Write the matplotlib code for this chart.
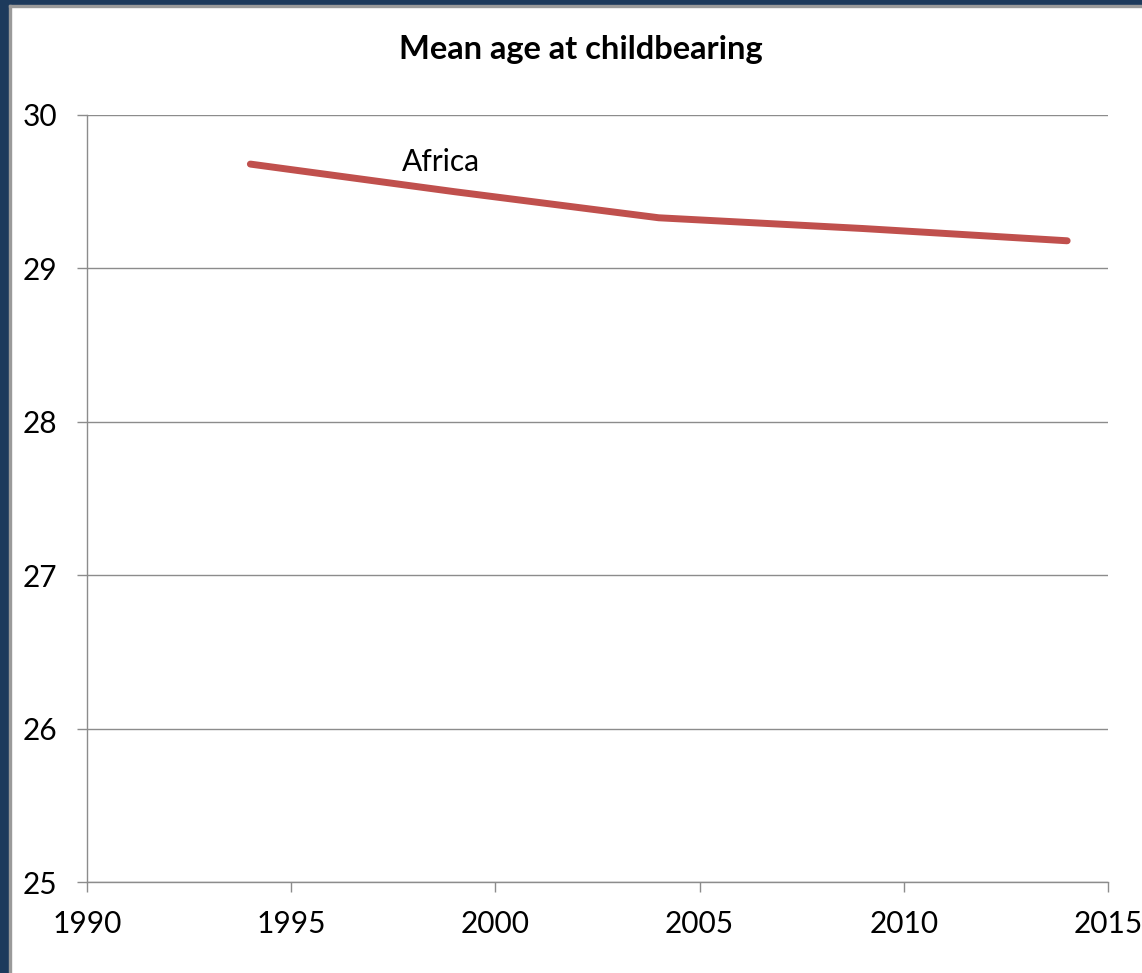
import matplotlib
matplotlib.use("Agg")
import matplotlib.pyplot as plt
from matplotlib.patches import Rectangle

# Mean age at childbearing, Africa
years = [1994, 1999, 2004, 2009, 2014]
mean_age = [29.68, 29.50, 29.33, 29.26, 29.18]
series_name = "Africa"
title = "Mean age at childbearing"
x_ticks = [1990, 1995, 2000, 2005, 2010, 2015]
y_ticks = [25, 26, 27, 28, 29, 30]

plt.rcParams['font.family'] = ['Lato', 'DejaVu Sans']

W, H = 1142, 973
fig = plt.figure(figsize=(W / 100, H / 100), dpi=100)
fig.patch.set_facecolor("white")

# slide frame: navy band with a thin grey rule on the left and top edges
navy = "#1d3a5c"
rule = "#9a9a9a"
fig.patches.append(Rectangle((0, 0), 9 / W, 1, transform=fig.transFigure, color=navy, zorder=0))
fig.patches.append(Rectangle((0, 1 - 5 / H), 1, 5 / H, transform=fig.transFigure, color=navy, zorder=0))
fig.patches.append(Rectangle((9 / W, 0), 2 / W, 1 - 5 / H, transform=fig.transFigure, color=rule, zorder=0))
fig.patches.append(Rectangle((9 / W, 1 - 7 / H), 1, 2 / H, transform=fig.transFigure, color=rule, zorder=0))

ax = fig.add_axes([87 / W, 1 - 882 / H, (1108 - 87) / W, (882 - 115) / H])
ax.set_xlim(x_ticks[0], x_ticks[-1])
ax.set_ylim(y_ticks[0], y_ticks[-1])
ax.set_xticks(x_ticks)
ax.set_yticks(y_ticks)

grid_col = "#8c8c8c"
ax.grid(axis="y", color=grid_col, linewidth=1.0)
ax.set_axisbelow(True)
for side in ("top", "right"):
    ax.spines[side].set_visible(False)
for side in ("left", "bottom"):
    ax.spines[side].set_color(grid_col)
    ax.spines[side].set_linewidth(1.0)

ax.tick_params(axis="both", direction="out", length=7.2, width=1.0, color=grid_col,
               labelsize=21.5, labelcolor="black")
ax.tick_params(axis="y", pad=14)
ax.tick_params(axis="x", pad=13)

ax.plot(years, mean_age, color="#c0504d", linewidth=5.0, solid_capstyle="round",
        solid_joinstyle="round", clip_on=False)
ax.text(1998.67, 29.694, series_name, fontsize=21.5, ha="center", va="center", color="black")

fig.text(581 / W, 1 - 50 / H, title, fontsize=23.5, fontweight="bold", ha="center", va="center")

fig.savefig("out.png", dpi=100)
